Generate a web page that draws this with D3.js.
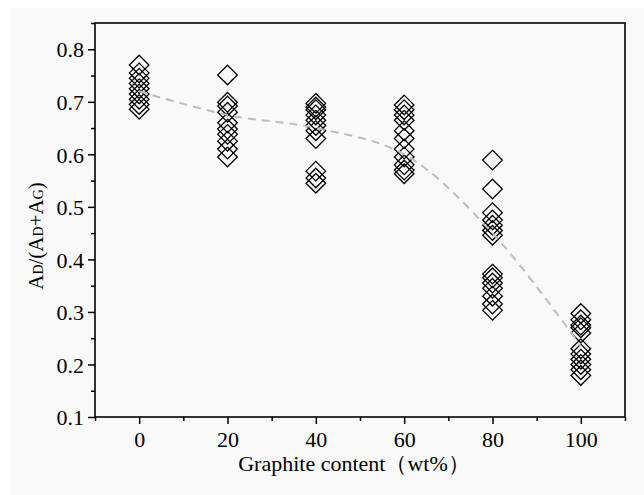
<!DOCTYPE html>
<html>
<head>
<meta charset="utf-8">
<script src="https://cdn.jsdelivr.net/npm/d3@7"></script>
<style>
  body { margin: 0; background: #fff; }
</style>
</head>
<body>
<svg id="area" width="644" height="495"></svg>
<script>
// measured values per graphite content group
const contents = [0, 20, 40, 60, 80, 100];
const ratio0   = [0.770, 0.755, 0.745, 0.735, 0.725, 0.715, 0.705, 0.695, 0.686];
const ratio20  = [0.751, 0.699, 0.692, 0.680, 0.660, 0.648, 0.638, 0.625, 0.610, 0.595];
const ratio40  = [0.697, 0.690, 0.685, 0.675, 0.665, 0.655, 0.645, 0.630, 0.568, 0.555, 0.545];
const ratio60  = [0.694, 0.685, 0.675, 0.665, 0.645, 0.630, 0.610, 0.595, 0.580, 0.570, 0.563];
const ratio80  = [0.589, 0.534, 0.489, 0.475, 0.465, 0.455, 0.446, 0.372, 0.365, 0.355, 0.345, 0.330, 0.315, 0.303];
const ratio100 = [0.297, 0.285, 0.275, 0.270, 0.260, 0.230, 0.220, 0.210, 0.200, 0.190, 0.179];
const trend    = [0.720, 0.675, 0.650, 0.600, 0.450, 0.235];
const xTicks = [0, 20, 40, 60, 80, 100];
const yTicks = [0.1, 0.2, 0.3, 0.4, 0.5, 0.6, 0.7, 0.8];

const groups = [ratio0, ratio20, ratio40, ratio60, ratio80, ratio100];
let points = [];
groups.forEach((g, i) => {
  g.forEach(v => points.push({x: contents[i], y: v}));
});

const serif = "'Times New Roman', 'Liberation Serif', 'DejaVu Serif', serif";
const svg = d3.select("#area");
const pLeft = 95, pRight = 625, pTop = 23, pBottom = 417;

svg.append("rect")
  .attr("x", 11).attr("y", 8)
  .attr("width", 633).attr("height", 487)
  .attr("fill", "#f9f9f9");

const x = d3.scaleLinear().domain([-10, 110]).range([pLeft, pRight]);
const y = d3.scaleLinear().domain([0.1, 0.85]).range([pBottom, pTop]);

// frame
svg.append("rect")
  .attr("x", pLeft).attr("y", pTop)
  .attr("width", pRight - pLeft).attr("height", pBottom - pTop)
  .attr("fill", "none").attr("stroke", "#000").attr("stroke-width", 1.6);

// minor ticks
const xAxisMinor = d3.axisBottom(x).tickValues([-10, 10, 30, 50, 70, 90, 110]).tickSize(4).tickFormat("");
const yAxisMinor = d3.axisLeft(y).tickValues([0.15, 0.25, 0.35, 0.45, 0.55, 0.65, 0.75, 0.85]).tickSize(4).tickFormat("");
svg.append("g").attr("transform", "translate(0," + pBottom + ")").call(xAxisMinor);
svg.append("g").attr("transform", "translate(" + pLeft + ",0)").call(yAxisMinor);

const xAxis = d3.axisBottom(x).tickValues(xTicks).tickSize(7).tickPadding(4);
const yAxis = d3.axisLeft(y).tickValues(yTicks).tickSize(7).tickPadding(4).tickFormat(d3.format(".1f"));
const gx = svg.append("g").attr("transform", "translate(0," + pBottom + ")").call(xAxis);
const gy = svg.append("g").attr("transform", "translate(" + pLeft + ",0)").call(yAxis);

svg.selectAll(".domain").remove();
svg.selectAll(".tick line").attr("stroke", "#000").attr("stroke-width", 1.5);
gx.attr("font-family", null);
gy.attr("font-family", null);
gx.selectAll("text").style("font-family", serif).attr("font-size", 22).attr("fill", "#000").attr("dy", "0.85em");
gy.selectAll("text").style("font-family", serif).attr("font-size", 22).attr("fill", "#000").attr("dy", "0.35em");

// diamonds
const diamond = d3.symbol().type(d3.symbolDiamond2).size(245);
svg.append("g").selectAll("path").data(points).join("path")
  .attr("d", diamond)
  .attr("transform", d => "translate(" + x(d.x) + "," + y(d.y) + ")")
  .attr("fill", "none").attr("stroke", "#000").attr("stroke-width", 1.3);

// trend line
const line = d3.line()
  .x((d, i) => x(contents[i]))
  .y(d => y(d))
  .curve(d3.curveCatmullRom);
svg.append("path")
  .datum(trend)
  .attr("d", line)
  .attr("fill", "none").attr("stroke", "#bdbdbd")
  .attr("stroke-width", 2).attr("stroke-dasharray", "8,6");

// axis titles
svg.append("text")
  .attr("x", 354).attr("y", 471)
  .attr("text-anchor", "middle").attr("font-size", 22)
  .style("font-family", serif)
  .text("Graphite content（wt%）");

const yl = svg.append("text")
  .attr("transform", "translate(43,236) rotate(-90)")
  .attr("text-anchor", "middle").attr("font-size", 21)
  .style("font-family", serif);
yl.append("tspan").text("A");
yl.append("tspan").attr("font-size", 14).text("D");
yl.append("tspan").text("/(A");
yl.append("tspan").attr("font-size", 14).text("D");
yl.append("tspan").text("+A");
yl.append("tspan").attr("font-size", 14).text("G");
yl.append("tspan").text(")");
</script>
</body>
</html>
